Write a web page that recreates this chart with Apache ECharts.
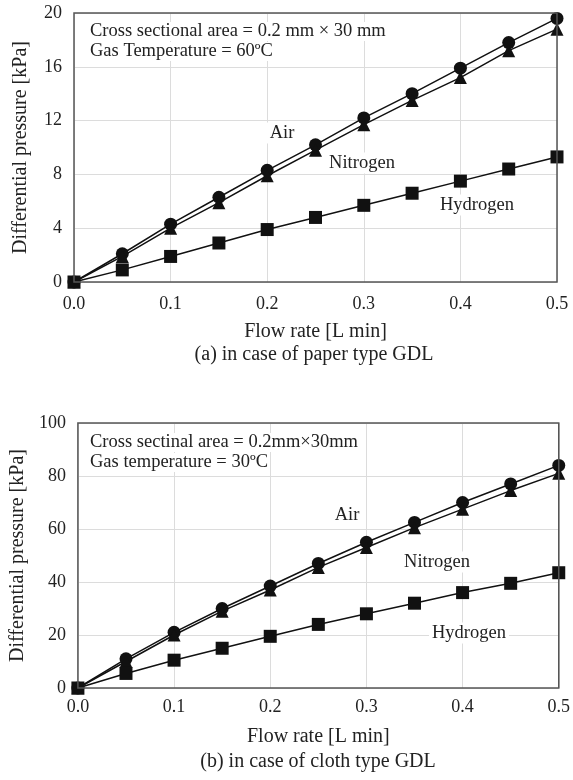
<!DOCTYPE html>
<html>
<head>
<meta charset="utf-8">
<script src="https://cdn.jsdelivr.net/npm/echarts@6/dist/echarts.min.js"></script>
<style>html,body{margin:0;padding:0;background:#fff;}#c{width:573px;height:780px;}</style>
</head>
<body>
<div id="c"></div>
<script>
const flowRate = [0, 0.05, 0.1, 0.15, 0.2, 0.25, 0.3, 0.35, 0.4, 0.45, 0.5];

const paperAir      = [0, 2.1, 4.3, 6.3, 8.3, 10.2, 12.2, 14.0, 15.9, 17.8, 19.6];
const paperNitrogen = [0, 1.9, 4.0, 5.9, 7.9, 9.8, 11.7, 13.5, 15.2, 17.2, 18.8];
const paperHydrogen = [0, 0.9, 1.9, 2.9, 3.9, 4.8, 5.7, 6.6, 7.5, 8.4, 9.3];

const clothAir      = [0, 11, 21, 30, 38.5, 47, 55, 62.5, 70, 77, 84];
const clothNitrogen = [0, 10, 20, 29, 37, 45.5, 53, 60.5, 67.5, 74.5, 81];
const clothHydrogen = [0, 5.5, 10.5, 15, 19.5, 24, 28, 32, 36, 39.5, 43.5];

const FONT = '"Liberation Serif", "Times New Roman", serif';
const pairs = (ys) => flowRate.map((x, i) => [x, ys[i]]);

function xAxis(gi, margin, gap) {
  return {
    type: 'value', gridIndex: gi, min: 0, max: 0.5, interval: 0.1,
    name: 'Flow rate [L min]', nameLocation: 'middle', nameGap: gap,
    nameTextStyle: {fontFamily: FONT, fontSize: 20, color: '#222'},
    axisLine: {show: false}, axisTick: {show: false},
    axisLabel: {fontFamily: FONT, fontSize: 18, color: '#222', margin: margin,
      formatter: v => v.toFixed(1)},
    splitLine: {show: true, lineStyle: {color: '#dcdcdc', width: 1}}
  };
}
function yAxis(gi, max, interval) {
  return {
    type: 'value', gridIndex: gi, min: 0, max: max, interval: interval,
    name: 'Differential pressure [kPa]', nameLocation: 'middle', nameGap: 43,
    nameRotate: 90,
    nameTextStyle: {fontFamily: FONT, fontSize: 20, color: '#222'},
    axisLine: {show: false}, axisTick: {show: false},
    axisLabel: {fontFamily: FONT, fontSize: 18, color: '#222', margin: 12},
    splitLine: {show: true, lineStyle: {color: '#dcdcdc', width: 1}}
  };
}
function series(name, data, symbol, gi, size) {
  return {
    name: name, type: 'line', xAxisIndex: gi, yAxisIndex: gi, data: pairs(data),
    symbol: symbol, symbolSize: size, showAllSymbol: true,
    lineStyle: {color: '#111', width: 1.5},
    itemStyle: {color: '#111'},
    emphasis: {disabled: true}, animation: false, z: 3
  };
}
function txt(x, y, s, opts) {
  return {
    type: 'text', x: x, y: y, z: 10,
    style: Object.assign({text: s, fontFamily: FONT, fontSize: 18.5, fill: '#222'}, opts || {})
  };
}
function lbl(cx, cy, s) {
  return txt(cx, cy, s, {align: 'center', verticalAlign: 'middle', backgroundColor: '#fff', padding: [1, 3]});
}

const chart = echarts.init(document.getElementById('c'), null, {renderer: 'canvas'});
chart.setOption({
  backgroundColor: '#fff',
  animation: false,
  grid: [
    {left: 74, right: 16, top: 13, bottom: 498, show: true, borderColor: '#555', borderWidth: 1.5, backgroundColor: 'transparent', z: 4},
    {left: 74, right: 10, top: 423, bottom: 92, show: true, borderColor: '#555', borderWidth: 1.5, backgroundColor: 'transparent', z: 4}
  ],
  xAxis: [xAxis(0, 13, 40), xAxis(1, 10, 39)],
  yAxis: [yAxis(0, 20, 4), yAxis(1, 100, 20)],
  series: [
    series('Air', paperAir, 'circle', 0, 13),
    series('Nitrogen', paperNitrogen, 'triangle', 0, 13),
    series('Hydrogen', paperHydrogen, 'rect', 0, 13),
    series('Air', clothAir, 'circle', 1, 13),
    series('Nitrogen', clothNitrogen, 'triangle', 1, 13),
    series('Hydrogen', clothHydrogen, 'rect', 1, 13)
  ],
  graphic: [
    txt(90, 22, 'Cross sectional area = 0.2 mm × 30 mm', {backgroundColor: '#fff'}),
    txt(90, 42, 'Gas Temperature = 60ºC', {backgroundColor: '#fff'}),
    lbl(282, 133, 'Air'),
    lbl(362, 163, 'Nitrogen'),
    lbl(477, 205, 'Hydrogen'),
    txt(314, 355, '(a) in case of paper type GDL', {fontSize: 20, align: 'center', verticalAlign: 'middle'}),

    txt(90, 433, 'Cross sectinal area = 0.2mm×30mm', {backgroundColor: '#fff'}),
    txt(90, 453, 'Gas temperature = 30ºC', {backgroundColor: '#fff'}),
    lbl(347, 515, 'Air'),
    lbl(437, 562, 'Nitrogen'),
    lbl(469, 633, 'Hydrogen'),
    txt(318, 762, '(b) in case of cloth type GDL', {fontSize: 20, align: 'center', verticalAlign: 'middle'})
  ]
});
</script>
</body>
</html>
